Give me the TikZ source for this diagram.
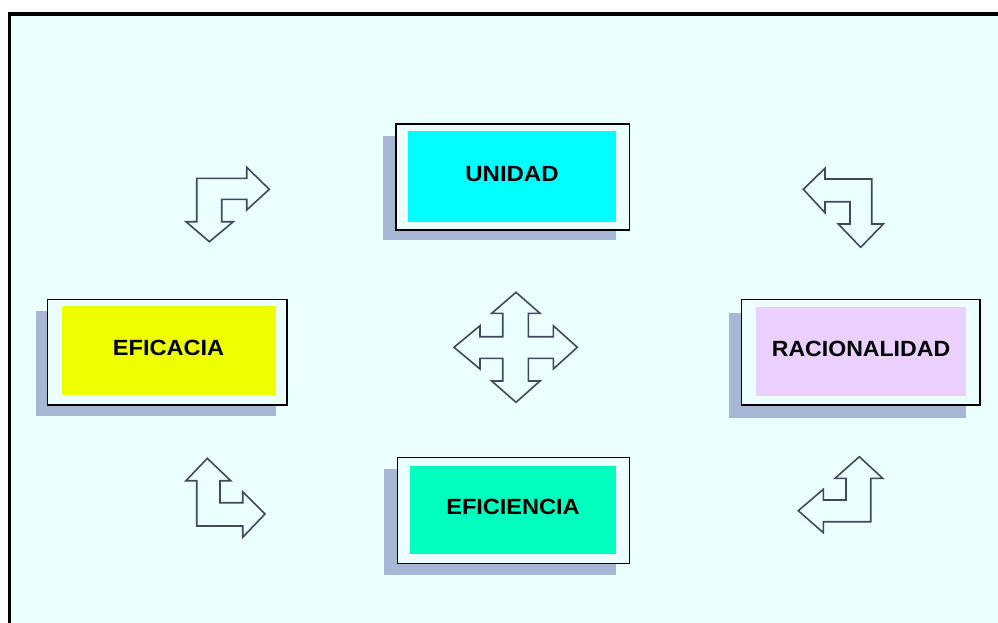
\documentclass[tikz,border=0pt]{standalone}
\usepackage{fontspec}
\usepackage{graphicx}
\setmainfont{Liberation Sans}
\definecolor{bgc}{RGB}{235,255,255}
\definecolor{shadowc}{RGB}{168,182,214}
\definecolor{arrowc}{RGB}{64,72,96}
\definecolor{cyanc}{RGB}{0,255,255}
\definecolor{yellowc}{RGB}{238,255,0}
\definecolor{lavc}{RGB}{234,208,255}
\definecolor{greenc}{RGB}{0,255,190}
\tikzset{
  shadowbox/.style={fill=shadowc, draw=none},
  outerbox/.style={fill=bgc, draw=black, line width=1.2pt},
  labeltext/.style={font=\fontsize{22}{24}\selectfont\bfseries, text=black, inner sep=0pt},
  bentarrow/.style={draw=arrowc, line width=1.6pt, line join=miter, fill=none},
}
\begin{document}
\begin{tikzpicture}[x=1pt,y=-1pt]
\useasboundingbox (0,0) rectangle (998,622);
\clip (0,0) rectangle (998,622);
% frame
\draw[fill=bgc, draw=black, line width=3.5pt] (9.5,14) rectangle (1010,640);

% UNIDAD
\path[shadowbox] (383,136) rectangle (616,240);
\path[outerbox] (396,124) rectangle (629.5,230);
\path[fill=cyanc] (408,131) rectangle (616,221.5);
\node[labeltext] (unidad) at (512,174) {\scalebox{1.09}[1]{UNIDAD}};

% EFICACIA
\path[shadowbox] (36,311) rectangle (275.5,416);
\path[outerbox] (47.5,299.5) rectangle (287,405);
\path[fill=yellowc] (61.5,306) rectangle (275.5,395);
\node[labeltext] (eficacia) at (168.5,347.5) {\scalebox{1.07}[1]{EFICACIA}};

% RACIONALIDAD
\path[shadowbox] (728.5,313) rectangle (966,418);
\path[outerbox] (741.5,299.5) rectangle (980,405);
\path[fill=lavc] (755.5,307) rectangle (966,396);
\node[labeltext] (racionalidad) at (861,349) {\scalebox{1.05}[1]{RACIONALIDAD}};

% EFICIENCIA
\path[shadowbox] (384,468.5) rectangle (616,574.5);
\path[outerbox] (397.5,457.5) rectangle (629.5,563.5);
\path[fill=greenc] (410,465.5) rectangle (616,554);
\node[labeltext] (eficiencia) at (513,506.5) {\scalebox{1.07}[1]{EFICIENCIA}};

% top-left arrow (right & down)
\draw[bentarrow] (196.7,221.7) -- (186,221.7) -- (209.3,241.7) -- (233.3,221.7) -- (221.7,221.7)
  -- (221.7,199.3) -- (246.7,199.3) -- (246.7,210) -- (269.3,189.3) -- (246.7,167.3)
  -- (246.7,178.3) -- (196.7,178.3) -- cycle;

% top-right arrow (left & down)
\draw[bentarrow] (803.3,189.3) -- (825,168.3) -- (825,179) -- (871.7,179) -- (871.7,224)
  -- (883.3,224) -- (860.7,247.3) -- (838.3,224) -- (850,224) -- (850,201.7)
  -- (825,201.7) -- (825,212.7) -- cycle;

% bottom-left arrow (up & right)
\draw[bentarrow] (207.3,458.3) -- (230.7,480.7) -- (220,480.7) -- (220,502.7) -- (242.7,502.7)
  -- (242.7,491.7) -- (265,514) -- (242.7,537.3) -- (242.7,526) -- (196.7,526)
  -- (196.7,480.7) -- (186,480.7) -- cycle;

% bottom-right arrow (up & left)
\draw[bentarrow] (859.3,456.7) -- (882.7,478.3) -- (870.7,478.3) -- (870.7,521.7) -- (823.3,521.7)
  -- (823.3,532.7) -- (798.3,510.7) -- (823.3,489.3) -- (823.3,500) -- (846,500)
  -- (846,478.3) -- (835,478.3) -- cycle;

% center four-way arrow
\draw[bentarrow] (516,292.3) -- (540,313.3) -- (528.3,313.3) -- (528.3,336.7) -- (553.3,336.7)
  -- (553.3,325.7) -- (577.3,347.3) -- (553.3,369) -- (553.3,358.3) -- (528.3,358.3)
  -- (528.3,381) -- (540,381) -- (516,402.3) -- (491.7,381) -- (502.7,381)
  -- (502.7,358.3) -- (480,358.3) -- (480,369) -- (454,347.3) -- (480,325.7)
  -- (480,336.7) -- (502.7,336.7) -- (502.7,313.3) -- (491.7,313.3) -- cycle;
\end{tikzpicture}
\end{document}
